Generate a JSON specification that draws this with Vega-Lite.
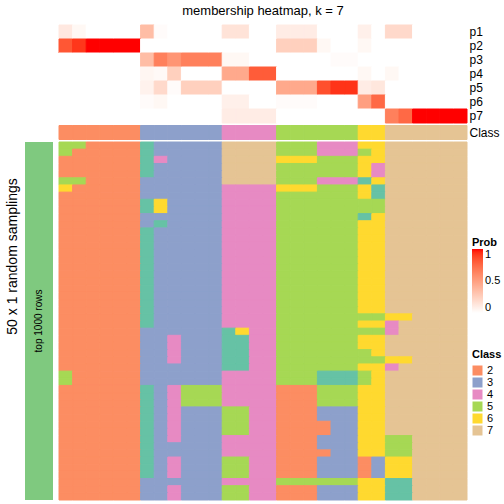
{
"$schema":"https://vega.github.io/schema/vega-lite/v6.json",
"padding":{"left":5,"top":4,"right":0,"bottom":0},
"config":{"view":{"stroke":null},"font":"Liberation Sans"},
"columns":2,
"align":"each",
"bounds":"flush",
"spacing":{"row":2.5,"column":6},
"datasets":{
"prob":[
{"p":"p1","c":0,"v":0.12},{"p":"p1","c":1,"v":0.04},{"p":"p1","c":2,"v":0},{"p":"p1","c":3,"v":0},{"p":"p1","c":4,"v":0},{"p":"p1","c":5,"v":0},{"p":"p1","c":6,"v":0.35},{"p":"p1","c":7,"v":0.02},{"p":"p1","c":8,"v":0},{"p":"p1","c":9,"v":0},{"p":"p1","c":10,"v":0},{"p":"p1","c":11,"v":0},{"p":"p1","c":12,"v":0.15},{"p":"p1","c":13,"v":0.15},{"p":"p1","c":14,"v":0},{"p":"p1","c":15,"v":0},{"p":"p1","c":16,"v":0.1},{"p":"p1","c":17,"v":0.1},{"p":"p1","c":18,"v":0.1},{"p":"p1","c":19,"v":0},{"p":"p1","c":20,"v":0},{"p":"p1","c":21,"v":0},{"p":"p1","c":22,"v":0.08},{"p":"p1","c":23,"v":0},{"p":"p1","c":24,"v":0.2},{"p":"p1","c":25,"v":0.2},{"p":"p1","c":26,"v":0},{"p":"p1","c":27,"v":0},{"p":"p1","c":28,"v":0},{"p":"p1","c":29,"v":0},
{"p":"p2","c":0,"v":0.82},{"p":"p2","c":1,"v":0.92},{"p":"p2","c":2,"v":1},{"p":"p2","c":3,"v":1},{"p":"p2","c":4,"v":1},{"p":"p2","c":5,"v":1},{"p":"p2","c":6,"v":0},{"p":"p2","c":7,"v":0},{"p":"p2","c":8,"v":0},{"p":"p2","c":9,"v":0},{"p":"p2","c":10,"v":0},{"p":"p2","c":11,"v":0},{"p":"p2","c":12,"v":0},{"p":"p2","c":13,"v":0},{"p":"p2","c":14,"v":0},{"p":"p2","c":15,"v":0},{"p":"p2","c":16,"v":0.25},{"p":"p2","c":17,"v":0.25},{"p":"p2","c":18,"v":0.25},{"p":"p2","c":19,"v":0.04},{"p":"p2","c":20,"v":0},{"p":"p2","c":21,"v":0},{"p":"p2","c":22,"v":0.04},{"p":"p2","c":23,"v":0},{"p":"p2","c":24,"v":0},{"p":"p2","c":25,"v":0},{"p":"p2","c":26,"v":0},{"p":"p2","c":27,"v":0},{"p":"p2","c":28,"v":0},{"p":"p2","c":29,"v":0},
{"p":"p3","c":0,"v":0},{"p":"p3","c":1,"v":0},{"p":"p3","c":2,"v":0},{"p":"p3","c":3,"v":0},{"p":"p3","c":4,"v":0},{"p":"p3","c":5,"v":0},{"p":"p3","c":6,"v":0.35},{"p":"p3","c":7,"v":0.65},{"p":"p3","c":8,"v":0.55},{"p":"p3","c":9,"v":0.65},{"p":"p3","c":10,"v":0.65},{"p":"p3","c":11,"v":0.65},{"p":"p3","c":12,"v":0.04},{"p":"p3","c":13,"v":0.04},{"p":"p3","c":14,"v":0},{"p":"p3","c":15,"v":0},{"p":"p3","c":16,"v":0},{"p":"p3","c":17,"v":0},{"p":"p3","c":18,"v":0},{"p":"p3","c":19,"v":0},{"p":"p3","c":20,"v":0.02},{"p":"p3","c":21,"v":0.02},{"p":"p3","c":22,"v":0},{"p":"p3","c":23,"v":0},{"p":"p3","c":24,"v":0},{"p":"p3","c":25,"v":0},{"p":"p3","c":26,"v":0},{"p":"p3","c":27,"v":0},{"p":"p3","c":28,"v":0},{"p":"p3","c":29,"v":0},
{"p":"p4","c":0,"v":0},{"p":"p4","c":1,"v":0},{"p":"p4","c":2,"v":0},{"p":"p4","c":3,"v":0},{"p":"p4","c":4,"v":0},{"p":"p4","c":5,"v":0},{"p":"p4","c":6,"v":0.05},{"p":"p4","c":7,"v":0.03},{"p":"p4","c":8,"v":0.25},{"p":"p4","c":9,"v":0},{"p":"p4","c":10,"v":0},{"p":"p4","c":11,"v":0},{"p":"p4","c":12,"v":0.45},{"p":"p4","c":13,"v":0.45},{"p":"p4","c":14,"v":0.8},{"p":"p4","c":15,"v":0.8},{"p":"p4","c":16,"v":0},{"p":"p4","c":17,"v":0},{"p":"p4","c":18,"v":0},{"p":"p4","c":19,"v":0},{"p":"p4","c":20,"v":0},{"p":"p4","c":21,"v":0},{"p":"p4","c":22,"v":0.04},{"p":"p4","c":23,"v":0},{"p":"p4","c":24,"v":0.04},{"p":"p4","c":25,"v":0},{"p":"p4","c":26,"v":0},{"p":"p4","c":27,"v":0},{"p":"p4","c":28,"v":0},{"p":"p4","c":29,"v":0},
{"p":"p5","c":0,"v":0},{"p":"p5","c":1,"v":0},{"p":"p5","c":2,"v":0},{"p":"p5","c":3,"v":0},{"p":"p5","c":4,"v":0},{"p":"p5","c":5,"v":0},{"p":"p5","c":6,"v":0.07},{"p":"p5","c":7,"v":0.2},{"p":"p5","c":8,"v":0.02},{"p":"p5","c":9,"v":0.25},{"p":"p5","c":10,"v":0.25},{"p":"p5","c":11,"v":0.25},{"p":"p5","c":12,"v":0},{"p":"p5","c":13,"v":0},{"p":"p5","c":14,"v":0},{"p":"p5","c":15,"v":0},{"p":"p5","c":16,"v":0.45},{"p":"p5","c":17,"v":0.45},{"p":"p5","c":18,"v":0.45},{"p":"p5","c":19,"v":0.85},{"p":"p5","c":20,"v":0.93},{"p":"p5","c":21,"v":0.93},{"p":"p5","c":22,"v":0.1},{"p":"p5","c":23,"v":0.13},{"p":"p5","c":24,"v":0},{"p":"p5","c":25,"v":0},{"p":"p5","c":26,"v":0},{"p":"p5","c":27,"v":0},{"p":"p5","c":28,"v":0},{"p":"p5","c":29,"v":0},
{"p":"p6","c":0,"v":0},{"p":"p6","c":1,"v":0},{"p":"p6","c":2,"v":0},{"p":"p6","c":3,"v":0},{"p":"p6","c":4,"v":0},{"p":"p6","c":5,"v":0},{"p":"p6","c":6,"v":0.02},{"p":"p6","c":7,"v":0.04},{"p":"p6","c":8,"v":0},{"p":"p6","c":9,"v":0},{"p":"p6","c":10,"v":0},{"p":"p6","c":11,"v":0},{"p":"p6","c":12,"v":0.08},{"p":"p6","c":13,"v":0.08},{"p":"p6","c":14,"v":0},{"p":"p6","c":15,"v":0},{"p":"p6","c":16,"v":0.02},{"p":"p6","c":17,"v":0.02},{"p":"p6","c":18,"v":0.02},{"p":"p6","c":19,"v":0},{"p":"p6","c":20,"v":0},{"p":"p6","c":21,"v":0},{"p":"p6","c":22,"v":0.5},{"p":"p6","c":23,"v":0.75},{"p":"p6","c":24,"v":0},{"p":"p6","c":25,"v":0},{"p":"p6","c":26,"v":0},{"p":"p6","c":27,"v":0},{"p":"p6","c":28,"v":0},{"p":"p6","c":29,"v":0},
{"p":"p7","c":0,"v":0},{"p":"p7","c":1,"v":0},{"p":"p7","c":2,"v":0},{"p":"p7","c":3,"v":0},{"p":"p7","c":4,"v":0},{"p":"p7","c":5,"v":0},{"p":"p7","c":6,"v":0},{"p":"p7","c":7,"v":0},{"p":"p7","c":8,"v":0},{"p":"p7","c":9,"v":0},{"p":"p7","c":10,"v":0},{"p":"p7","c":11,"v":0},{"p":"p7","c":12,"v":0.1},{"p":"p7","c":13,"v":0.1},{"p":"p7","c":14,"v":0.1},{"p":"p7","c":15,"v":0.1},{"p":"p7","c":16,"v":0},{"p":"p7","c":17,"v":0},{"p":"p7","c":18,"v":0},{"p":"p7","c":19,"v":0},{"p":"p7","c":20,"v":0},{"p":"p7","c":21,"v":0},{"p":"p7","c":22,"v":0},{"p":"p7","c":23,"v":0},{"p":"p7","c":24,"v":0.65},{"p":"p7","c":25,"v":0.75},{"p":"p7","c":26,"v":1},{"p":"p7","c":27,"v":1},{"p":"p7","c":28,"v":1},{"p":"p7","c":29,"v":1}
],
"cls":[
{"c":0,"k":2},{"c":1,"k":2},{"c":2,"k":2},{"c":3,"k":2},{"c":4,"k":2},{"c":5,"k":2},{"c":6,"k":3},{"c":7,"k":3},{"c":8,"k":3},{"c":9,"k":3},{"c":10,"k":3},{"c":11,"k":3},{"c":12,"k":4},{"c":13,"k":4},{"c":14,"k":4},{"c":15,"k":4},{"c":16,"k":5},{"c":17,"k":5},{"c":18,"k":5},{"c":19,"k":5},{"c":20,"k":5},{"c":21,"k":5},{"c":22,"k":6},{"c":23,"k":6},{"c":24,"k":7},{"c":25,"k":7},{"c":26,"k":7},{"c":27,"k":7},{"c":28,"k":7},{"c":29,"k":7}
],
"cells":[
{"r":0,"c":0,"k":5},{"r":0,"c":1,"k":5},{"r":0,"c":2,"k":2},{"r":0,"c":3,"k":2},{"r":0,"c":4,"k":2},{"r":0,"c":5,"k":2},{"r":0,"c":6,"k":1},{"r":0,"c":7,"k":3},{"r":0,"c":8,"k":3},{"r":0,"c":9,"k":3},{"r":0,"c":10,"k":3},{"r":0,"c":11,"k":3},{"r":0,"c":12,"k":7},{"r":0,"c":13,"k":7},{"r":0,"c":14,"k":7},{"r":0,"c":15,"k":7},{"r":0,"c":16,"k":5},{"r":0,"c":17,"k":5},{"r":0,"c":18,"k":5},{"r":0,"c":19,"k":4},{"r":0,"c":20,"k":4},{"r":0,"c":21,"k":4},{"r":0,"c":22,"k":6},{"r":0,"c":23,"k":6},{"r":0,"c":24,"k":7},{"r":0,"c":25,"k":7},{"r":0,"c":26,"k":7},{"r":0,"c":27,"k":7},{"r":0,"c":28,"k":7},{"r":0,"c":29,"k":7},
{"r":1,"c":0,"k":5},{"r":1,"c":1,"k":2},{"r":1,"c":2,"k":2},{"r":1,"c":3,"k":2},{"r":1,"c":4,"k":2},{"r":1,"c":5,"k":2},{"r":1,"c":6,"k":1},{"r":1,"c":7,"k":3},{"r":1,"c":8,"k":3},{"r":1,"c":9,"k":3},{"r":1,"c":10,"k":3},{"r":1,"c":11,"k":3},{"r":1,"c":12,"k":7},{"r":1,"c":13,"k":7},{"r":1,"c":14,"k":7},{"r":1,"c":15,"k":7},{"r":1,"c":16,"k":5},{"r":1,"c":17,"k":5},{"r":1,"c":18,"k":5},{"r":1,"c":19,"k":4},{"r":1,"c":20,"k":4},{"r":1,"c":21,"k":4},{"r":1,"c":22,"k":5},{"r":1,"c":23,"k":6},{"r":1,"c":24,"k":7},{"r":1,"c":25,"k":7},{"r":1,"c":26,"k":7},{"r":1,"c":27,"k":7},{"r":1,"c":28,"k":7},{"r":1,"c":29,"k":7},
{"r":2,"c":0,"k":2},{"r":2,"c":1,"k":2},{"r":2,"c":2,"k":2},{"r":2,"c":3,"k":2},{"r":2,"c":4,"k":2},{"r":2,"c":5,"k":2},{"r":2,"c":6,"k":1},{"r":2,"c":7,"k":4},{"r":2,"c":8,"k":3},{"r":2,"c":9,"k":3},{"r":2,"c":10,"k":3},{"r":2,"c":11,"k":3},{"r":2,"c":12,"k":7},{"r":2,"c":13,"k":7},{"r":2,"c":14,"k":7},{"r":2,"c":15,"k":7},{"r":2,"c":16,"k":6},{"r":2,"c":17,"k":6},{"r":2,"c":18,"k":6},{"r":2,"c":19,"k":5},{"r":2,"c":20,"k":5},{"r":2,"c":21,"k":5},{"r":2,"c":22,"k":6},{"r":2,"c":23,"k":6},{"r":2,"c":24,"k":7},{"r":2,"c":25,"k":7},{"r":2,"c":26,"k":7},{"r":2,"c":27,"k":7},{"r":2,"c":28,"k":7},{"r":2,"c":29,"k":7},
{"r":3,"c":0,"k":2},{"r":3,"c":1,"k":2},{"r":3,"c":2,"k":2},{"r":3,"c":3,"k":2},{"r":3,"c":4,"k":2},{"r":3,"c":5,"k":2},{"r":3,"c":6,"k":1},{"r":3,"c":7,"k":3},{"r":3,"c":8,"k":3},{"r":3,"c":9,"k":3},{"r":3,"c":10,"k":3},{"r":3,"c":11,"k":3},{"r":3,"c":12,"k":7},{"r":3,"c":13,"k":7},{"r":3,"c":14,"k":7},{"r":3,"c":15,"k":7},{"r":3,"c":16,"k":5},{"r":3,"c":17,"k":5},{"r":3,"c":18,"k":5},{"r":3,"c":19,"k":5},{"r":3,"c":20,"k":5},{"r":3,"c":21,"k":5},{"r":3,"c":22,"k":6},{"r":3,"c":23,"k":4},{"r":3,"c":24,"k":7},{"r":3,"c":25,"k":7},{"r":3,"c":26,"k":7},{"r":3,"c":27,"k":7},{"r":3,"c":28,"k":7},{"r":3,"c":29,"k":7},
{"r":4,"c":0,"k":2},{"r":4,"c":1,"k":2},{"r":4,"c":2,"k":2},{"r":4,"c":3,"k":2},{"r":4,"c":4,"k":2},{"r":4,"c":5,"k":2},{"r":4,"c":6,"k":1},{"r":4,"c":7,"k":3},{"r":4,"c":8,"k":3},{"r":4,"c":9,"k":3},{"r":4,"c":10,"k":3},{"r":4,"c":11,"k":3},{"r":4,"c":12,"k":7},{"r":4,"c":13,"k":7},{"r":4,"c":14,"k":7},{"r":4,"c":15,"k":7},{"r":4,"c":16,"k":5},{"r":4,"c":17,"k":5},{"r":4,"c":18,"k":5},{"r":4,"c":19,"k":5},{"r":4,"c":20,"k":5},{"r":4,"c":21,"k":5},{"r":4,"c":22,"k":6},{"r":4,"c":23,"k":4},{"r":4,"c":24,"k":7},{"r":4,"c":25,"k":7},{"r":4,"c":26,"k":7},{"r":4,"c":27,"k":7},{"r":4,"c":28,"k":7},{"r":4,"c":29,"k":7},
{"r":5,"c":0,"k":5},{"r":5,"c":1,"k":5},{"r":5,"c":2,"k":2},{"r":5,"c":3,"k":2},{"r":5,"c":4,"k":2},{"r":5,"c":5,"k":2},{"r":5,"c":6,"k":3},{"r":5,"c":7,"k":3},{"r":5,"c":8,"k":3},{"r":5,"c":9,"k":3},{"r":5,"c":10,"k":3},{"r":5,"c":11,"k":3},{"r":5,"c":12,"k":7},{"r":5,"c":13,"k":7},{"r":5,"c":14,"k":7},{"r":5,"c":15,"k":7},{"r":5,"c":16,"k":5},{"r":5,"c":17,"k":5},{"r":5,"c":18,"k":5},{"r":5,"c":19,"k":4},{"r":5,"c":20,"k":4},{"r":5,"c":21,"k":4},{"r":5,"c":22,"k":1},{"r":5,"c":23,"k":6},{"r":5,"c":24,"k":7},{"r":5,"c":25,"k":7},{"r":5,"c":26,"k":7},{"r":5,"c":27,"k":7},{"r":5,"c":28,"k":7},{"r":5,"c":29,"k":7},
{"r":6,"c":0,"k":6},{"r":6,"c":1,"k":2},{"r":6,"c":2,"k":2},{"r":6,"c":3,"k":2},{"r":6,"c":4,"k":2},{"r":6,"c":5,"k":2},{"r":6,"c":6,"k":3},{"r":6,"c":7,"k":3},{"r":6,"c":8,"k":3},{"r":6,"c":9,"k":3},{"r":6,"c":10,"k":3},{"r":6,"c":11,"k":3},{"r":6,"c":12,"k":4},{"r":6,"c":13,"k":4},{"r":6,"c":14,"k":4},{"r":6,"c":15,"k":4},{"r":6,"c":16,"k":6},{"r":6,"c":17,"k":6},{"r":6,"c":18,"k":6},{"r":6,"c":19,"k":5},{"r":6,"c":20,"k":5},{"r":6,"c":21,"k":5},{"r":6,"c":22,"k":6},{"r":6,"c":23,"k":1},{"r":6,"c":24,"k":7},{"r":6,"c":25,"k":7},{"r":6,"c":26,"k":7},{"r":6,"c":27,"k":7},{"r":6,"c":28,"k":7},{"r":6,"c":29,"k":7},
{"r":7,"c":0,"k":2},{"r":7,"c":1,"k":2},{"r":7,"c":2,"k":2},{"r":7,"c":3,"k":2},{"r":7,"c":4,"k":2},{"r":7,"c":5,"k":2},{"r":7,"c":6,"k":3},{"r":7,"c":7,"k":3},{"r":7,"c":8,"k":3},{"r":7,"c":9,"k":3},{"r":7,"c":10,"k":3},{"r":7,"c":11,"k":3},{"r":7,"c":12,"k":4},{"r":7,"c":13,"k":4},{"r":7,"c":14,"k":4},{"r":7,"c":15,"k":4},{"r":7,"c":16,"k":5},{"r":7,"c":17,"k":5},{"r":7,"c":18,"k":5},{"r":7,"c":19,"k":5},{"r":7,"c":20,"k":5},{"r":7,"c":21,"k":5},{"r":7,"c":22,"k":6},{"r":7,"c":23,"k":1},{"r":7,"c":24,"k":7},{"r":7,"c":25,"k":7},{"r":7,"c":26,"k":7},{"r":7,"c":27,"k":7},{"r":7,"c":28,"k":7},{"r":7,"c":29,"k":7},
{"r":8,"c":0,"k":2},{"r":8,"c":1,"k":2},{"r":8,"c":2,"k":2},{"r":8,"c":3,"k":2},{"r":8,"c":4,"k":2},{"r":8,"c":5,"k":2},{"r":8,"c":6,"k":1},{"r":8,"c":7,"k":6},{"r":8,"c":8,"k":3},{"r":8,"c":9,"k":3},{"r":8,"c":10,"k":3},{"r":8,"c":11,"k":3},{"r":8,"c":12,"k":4},{"r":8,"c":13,"k":4},{"r":8,"c":14,"k":4},{"r":8,"c":15,"k":4},{"r":8,"c":16,"k":5},{"r":8,"c":17,"k":5},{"r":8,"c":18,"k":5},{"r":8,"c":19,"k":5},{"r":8,"c":20,"k":5},{"r":8,"c":21,"k":5},{"r":8,"c":22,"k":5},{"r":8,"c":23,"k":5},{"r":8,"c":24,"k":7},{"r":8,"c":25,"k":7},{"r":8,"c":26,"k":7},{"r":8,"c":27,"k":7},{"r":8,"c":28,"k":7},{"r":8,"c":29,"k":7},
{"r":9,"c":0,"k":2},{"r":9,"c":1,"k":2},{"r":9,"c":2,"k":2},{"r":9,"c":3,"k":2},{"r":9,"c":4,"k":2},{"r":9,"c":5,"k":2},{"r":9,"c":6,"k":1},{"r":9,"c":7,"k":6},{"r":9,"c":8,"k":3},{"r":9,"c":9,"k":3},{"r":9,"c":10,"k":3},{"r":9,"c":11,"k":3},{"r":9,"c":12,"k":4},{"r":9,"c":13,"k":4},{"r":9,"c":14,"k":4},{"r":9,"c":15,"k":4},{"r":9,"c":16,"k":5},{"r":9,"c":17,"k":5},{"r":9,"c":18,"k":5},{"r":9,"c":19,"k":5},{"r":9,"c":20,"k":5},{"r":9,"c":21,"k":5},{"r":9,"c":22,"k":5},{"r":9,"c":23,"k":5},{"r":9,"c":24,"k":7},{"r":9,"c":25,"k":7},{"r":9,"c":26,"k":7},{"r":9,"c":27,"k":7},{"r":9,"c":28,"k":7},{"r":9,"c":29,"k":7},
{"r":10,"c":0,"k":2},{"r":10,"c":1,"k":2},{"r":10,"c":2,"k":2},{"r":10,"c":3,"k":2},{"r":10,"c":4,"k":2},{"r":10,"c":5,"k":2},{"r":10,"c":6,"k":3},{"r":10,"c":7,"k":3},{"r":10,"c":8,"k":3},{"r":10,"c":9,"k":3},{"r":10,"c":10,"k":3},{"r":10,"c":11,"k":3},{"r":10,"c":12,"k":4},{"r":10,"c":13,"k":4},{"r":10,"c":14,"k":4},{"r":10,"c":15,"k":4},{"r":10,"c":16,"k":5},{"r":10,"c":17,"k":5},{"r":10,"c":18,"k":5},{"r":10,"c":19,"k":5},{"r":10,"c":20,"k":5},{"r":10,"c":21,"k":5},{"r":10,"c":22,"k":1},{"r":10,"c":23,"k":6},{"r":10,"c":24,"k":7},{"r":10,"c":25,"k":7},{"r":10,"c":26,"k":7},{"r":10,"c":27,"k":7},{"r":10,"c":28,"k":7},{"r":10,"c":29,"k":7},
{"r":11,"c":0,"k":2},{"r":11,"c":1,"k":2},{"r":11,"c":2,"k":2},{"r":11,"c":3,"k":2},{"r":11,"c":4,"k":2},{"r":11,"c":5,"k":2},{"r":11,"c":6,"k":3},{"r":11,"c":7,"k":1},{"r":11,"c":8,"k":3},{"r":11,"c":9,"k":3},{"r":11,"c":10,"k":3},{"r":11,"c":11,"k":3},{"r":11,"c":12,"k":4},{"r":11,"c":13,"k":4},{"r":11,"c":14,"k":4},{"r":11,"c":15,"k":4},{"r":11,"c":16,"k":5},{"r":11,"c":17,"k":5},{"r":11,"c":18,"k":5},{"r":11,"c":19,"k":5},{"r":11,"c":20,"k":5},{"r":11,"c":21,"k":5},{"r":11,"c":22,"k":6},{"r":11,"c":23,"k":6},{"r":11,"c":24,"k":7},{"r":11,"c":25,"k":7},{"r":11,"c":26,"k":7},{"r":11,"c":27,"k":7},{"r":11,"c":28,"k":7},{"r":11,"c":29,"k":7},
{"r":12,"c":0,"k":2},{"r":12,"c":1,"k":2},{"r":12,"c":2,"k":2},{"r":12,"c":3,"k":2},{"r":12,"c":4,"k":2},{"r":12,"c":5,"k":2},{"r":12,"c":6,"k":1},{"r":12,"c":7,"k":3},{"r":12,"c":8,"k":3},{"r":12,"c":9,"k":3},{"r":12,"c":10,"k":3},{"r":12,"c":11,"k":3},{"r":12,"c":12,"k":4},{"r":12,"c":13,"k":4},{"r":12,"c":14,"k":4},{"r":12,"c":15,"k":4},{"r":12,"c":16,"k":5},{"r":12,"c":17,"k":5},{"r":12,"c":18,"k":5},{"r":12,"c":19,"k":5},{"r":12,"c":20,"k":5},{"r":12,"c":21,"k":5},{"r":12,"c":22,"k":6},{"r":12,"c":23,"k":6},{"r":12,"c":24,"k":7},{"r":12,"c":25,"k":7},{"r":12,"c":26,"k":7},{"r":12,"c":27,"k":7},{"r":12,"c":28,"k":7},{"r":12,"c":29,"k":7},
{"r":13,"c":0,"k":2},{"r":13,"c":1,"k":2},{"r":13,"c":2,"k":2},{"r":13,"c":3,"k":2},{"r":13,"c":4,"k":2},{"r":13,"c":5,"k":2},{"r":13,"c":6,"k":1},{"r":13,"c":7,"k":3},{"r":13,"c":8,"k":3},{"r":13,"c":9,"k":3},{"r":13,"c":10,"k":3},{"r":13,"c":11,"k":3},{"r":13,"c":12,"k":4},{"r":13,"c":13,"k":4},{"r":13,"c":14,"k":4},{"r":13,"c":15,"k":4},{"r":13,"c":16,"k":5},{"r":13,"c":17,"k":5},{"r":13,"c":18,"k":5},{"r":13,"c":19,"k":5},{"r":13,"c":20,"k":5},{"r":13,"c":21,"k":5},{"r":13,"c":22,"k":6},{"r":13,"c":23,"k":6},{"r":13,"c":24,"k":7},{"r":13,"c":25,"k":7},{"r":13,"c":26,"k":7},{"r":13,"c":27,"k":7},{"r":13,"c":28,"k":7},{"r":13,"c":29,"k":7},
{"r":14,"c":0,"k":2},{"r":14,"c":1,"k":2},{"r":14,"c":2,"k":2},{"r":14,"c":3,"k":2},{"r":14,"c":4,"k":2},{"r":14,"c":5,"k":2},{"r":14,"c":6,"k":1},{"r":14,"c":7,"k":3},{"r":14,"c":8,"k":3},{"r":14,"c":9,"k":3},{"r":14,"c":10,"k":3},{"r":14,"c":11,"k":3},{"r":14,"c":12,"k":4},{"r":14,"c":13,"k":4},{"r":14,"c":14,"k":4},{"r":14,"c":15,"k":4},{"r":14,"c":16,"k":5},{"r":14,"c":17,"k":5},{"r":14,"c":18,"k":5},{"r":14,"c":19,"k":5},{"r":14,"c":20,"k":5},{"r":14,"c":21,"k":5},{"r":14,"c":22,"k":6},{"r":14,"c":23,"k":6},{"r":14,"c":24,"k":7},{"r":14,"c":25,"k":7},{"r":14,"c":26,"k":7},{"r":14,"c":27,"k":7},{"r":14,"c":28,"k":7},{"r":14,"c":29,"k":7},
{"r":15,"c":0,"k":2},{"r":15,"c":1,"k":2},{"r":15,"c":2,"k":2},{"r":15,"c":3,"k":2},{"r":15,"c":4,"k":2},{"r":15,"c":5,"k":2},{"r":15,"c":6,"k":1},{"r":15,"c":7,"k":3},{"r":15,"c":8,"k":3},{"r":15,"c":9,"k":3},{"r":15,"c":10,"k":3},{"r":15,"c":11,"k":3},{"r":15,"c":12,"k":4},{"r":15,"c":13,"k":4},{"r":15,"c":14,"k":4},{"r":15,"c":15,"k":4},{"r":15,"c":16,"k":5},{"r":15,"c":17,"k":5},{"r":15,"c":18,"k":5},{"r":15,"c":19,"k":5},{"r":15,"c":20,"k":5},{"r":15,"c":21,"k":5},{"r":15,"c":22,"k":6},{"r":15,"c":23,"k":6},{"r":15,"c":24,"k":7},{"r":15,"c":25,"k":7},{"r":15,"c":26,"k":7},{"r":15,"c":27,"k":7},{"r":15,"c":28,"k":7},{"r":15,"c":29,"k":7},
{"r":16,"c":0,"k":2},{"r":16,"c":1,"k":2},{"r":16,"c":2,"k":2},{"r":16,"c":3,"k":2},{"r":16,"c":4,"k":2},{"r":16,"c":5,"k":2},{"r":16,"c":6,"k":1},{"r":16,"c":7,"k":3},{"r":16,"c":8,"k":3},{"r":16,"c":9,"k":3},{"r":16,"c":10,"k":3},{"r":16,"c":11,"k":3},{"r":16,"c":12,"k":4},{"r":16,"c":13,"k":4},{"r":16,"c":14,"k":4},{"r":16,"c":15,"k":4},{"r":16,"c":16,"k":5},{"r":16,"c":17,"k":5},{"r":16,"c":18,"k":5},{"r":16,"c":19,"k":5},{"r":16,"c":20,"k":5},{"r":16,"c":21,"k":5},{"r":16,"c":22,"k":6},{"r":16,"c":23,"k":6},{"r":16,"c":24,"k":7},{"r":16,"c":25,"k":7},{"r":16,"c":26,"k":7},{"r":16,"c":27,"k":7},{"r":16,"c":28,"k":7},{"r":16,"c":29,"k":7},
{"r":17,"c":0,"k":2},{"r":17,"c":1,"k":2},{"r":17,"c":2,"k":2},{"r":17,"c":3,"k":2},{"r":17,"c":4,"k":2},{"r":17,"c":5,"k":2},{"r":17,"c":6,"k":1},{"r":17,"c":7,"k":3},{"r":17,"c":8,"k":3},{"r":17,"c":9,"k":3},{"r":17,"c":10,"k":3},{"r":17,"c":11,"k":3},{"r":17,"c":12,"k":4},{"r":17,"c":13,"k":4},{"r":17,"c":14,"k":4},{"r":17,"c":15,"k":4},{"r":17,"c":16,"k":5},{"r":17,"c":17,"k":5},{"r":17,"c":18,"k":5},{"r":17,"c":19,"k":5},{"r":17,"c":20,"k":5},{"r":17,"c":21,"k":5},{"r":17,"c":22,"k":6},{"r":17,"c":23,"k":6},{"r":17,"c":24,"k":7},{"r":17,"c":25,"k":7},{"r":17,"c":26,"k":7},{"r":17,"c":27,"k":7},{"r":17,"c":28,"k":7},{"r":17,"c":29,"k":7},
{"r":18,"c":0,"k":2},{"r":18,"c":1,"k":2},{"r":18,"c":2,"k":2},{"r":18,"c":3,"k":2},{"r":18,"c":4,"k":2},{"r":18,"c":5,"k":2},{"r":18,"c":6,"k":1},{"r":18,"c":7,"k":3},{"r":18,"c":8,"k":3},{"r":18,"c":9,"k":3},{"r":18,"c":10,"k":3},{"r":18,"c":11,"k":3},{"r":18,"c":12,"k":4},{"r":18,"c":13,"k":4},{"r":18,"c":14,"k":4},{"r":18,"c":15,"k":4},{"r":18,"c":16,"k":5},{"r":18,"c":17,"k":5},{"r":18,"c":18,"k":5},{"r":18,"c":19,"k":5},{"r":18,"c":20,"k":5},{"r":18,"c":21,"k":5},{"r":18,"c":22,"k":6},{"r":18,"c":23,"k":6},{"r":18,"c":24,"k":7},{"r":18,"c":25,"k":7},{"r":18,"c":26,"k":7},{"r":18,"c":27,"k":7},{"r":18,"c":28,"k":7},{"r":18,"c":29,"k":7},
{"r":19,"c":0,"k":2},{"r":19,"c":1,"k":2},{"r":19,"c":2,"k":2},{"r":19,"c":3,"k":2},{"r":19,"c":4,"k":2},{"r":19,"c":5,"k":2},{"r":19,"c":6,"k":1},{"r":19,"c":7,"k":3},{"r":19,"c":8,"k":3},{"r":19,"c":9,"k":3},{"r":19,"c":10,"k":3},{"r":19,"c":11,"k":3},{"r":19,"c":12,"k":4},{"r":19,"c":13,"k":4},{"r":19,"c":14,"k":4},{"r":19,"c":15,"k":4},{"r":19,"c":16,"k":5},{"r":19,"c":17,"k":5},{"r":19,"c":18,"k":5},{"r":19,"c":19,"k":5},{"r":19,"c":20,"k":5},{"r":19,"c":21,"k":5},{"r":19,"c":22,"k":6},{"r":19,"c":23,"k":6},{"r":19,"c":24,"k":7},{"r":19,"c":25,"k":7},{"r":19,"c":26,"k":7},{"r":19,"c":27,"k":7},{"r":19,"c":28,"k":7},{"r":19,"c":29,"k":7},
{"r":20,"c":0,"k":2},{"r":20,"c":1,"k":2},{"r":20,"c":2,"k":2},{"r":20,"c":3,"k":2},{"r":20,"c":4,"k":2},{"r":20,"c":5,"k":2},{"r":20,"c":6,"k":1},{"r":20,"c":7,"k":3},{"r":20,"c":8,"k":3},{"r":20,"c":9,"k":3},{"r":20,"c":10,"k":3},{"r":20,"c":11,"k":3},{"r":20,"c":12,"k":4},{"r":20,"c":13,"k":4},{"r":20,"c":14,"k":4},{"r":20,"c":15,"k":4},{"r":20,"c":16,"k":5},{"r":20,"c":17,"k":5},{"r":20,"c":18,"k":5},{"r":20,"c":19,"k":5},{"r":20,"c":20,"k":5},{"r":20,"c":21,"k":5},{"r":20,"c":22,"k":6},{"r":20,"c":23,"k":6},{"r":20,"c":24,"k":7},{"r":20,"c":25,"k":7},{"r":20,"c":26,"k":7},{"r":20,"c":27,"k":7},{"r":20,"c":28,"k":7},{"r":20,"c":29,"k":7},
{"r":21,"c":0,"k":2},{"r":21,"c":1,"k":2},{"r":21,"c":2,"k":2},{"r":21,"c":3,"k":2},{"r":21,"c":4,"k":2},{"r":21,"c":5,"k":2},{"r":21,"c":6,"k":1},{"r":21,"c":7,"k":3},{"r":21,"c":8,"k":3},{"r":21,"c":9,"k":3},{"r":21,"c":10,"k":3},{"r":21,"c":11,"k":3},{"r":21,"c":12,"k":4},{"r":21,"c":13,"k":4},{"r":21,"c":14,"k":4},{"r":21,"c":15,"k":4},{"r":21,"c":16,"k":5},{"r":21,"c":17,"k":5},{"r":21,"c":18,"k":5},{"r":21,"c":19,"k":5},{"r":21,"c":20,"k":5},{"r":21,"c":21,"k":5},{"r":21,"c":22,"k":6},{"r":21,"c":23,"k":6},{"r":21,"c":24,"k":7},{"r":21,"c":25,"k":7},{"r":21,"c":26,"k":7},{"r":21,"c":27,"k":7},{"r":21,"c":28,"k":7},{"r":21,"c":29,"k":7},
{"r":22,"c":0,"k":2},{"r":22,"c":1,"k":2},{"r":22,"c":2,"k":2},{"r":22,"c":3,"k":2},{"r":22,"c":4,"k":2},{"r":22,"c":5,"k":2},{"r":22,"c":6,"k":1},{"r":22,"c":7,"k":3},{"r":22,"c":8,"k":3},{"r":22,"c":9,"k":3},{"r":22,"c":10,"k":3},{"r":22,"c":11,"k":3},{"r":22,"c":12,"k":4},{"r":22,"c":13,"k":4},{"r":22,"c":14,"k":4},{"r":22,"c":15,"k":4},{"r":22,"c":16,"k":5},{"r":22,"c":17,"k":5},{"r":22,"c":18,"k":5},{"r":22,"c":19,"k":5},{"r":22,"c":20,"k":5},{"r":22,"c":21,"k":5},{"r":22,"c":22,"k":6},{"r":22,"c":23,"k":6},{"r":22,"c":24,"k":7},{"r":22,"c":25,"k":7},{"r":22,"c":26,"k":7},{"r":22,"c":27,"k":7},{"r":22,"c":28,"k":7},{"r":22,"c":29,"k":7},
{"r":23,"c":0,"k":2},{"r":23,"c":1,"k":2},{"r":23,"c":2,"k":2},{"r":23,"c":3,"k":2},{"r":23,"c":4,"k":2},{"r":23,"c":5,"k":2},{"r":23,"c":6,"k":1},{"r":23,"c":7,"k":3},{"r":23,"c":8,"k":3},{"r":23,"c":9,"k":3},{"r":23,"c":10,"k":3},{"r":23,"c":11,"k":3},{"r":23,"c":12,"k":4},{"r":23,"c":13,"k":4},{"r":23,"c":14,"k":4},{"r":23,"c":15,"k":4},{"r":23,"c":16,"k":5},{"r":23,"c":17,"k":5},{"r":23,"c":18,"k":5},{"r":23,"c":19,"k":5},{"r":23,"c":20,"k":5},{"r":23,"c":21,"k":5},{"r":23,"c":22,"k":6},{"r":23,"c":23,"k":6},{"r":23,"c":24,"k":7},{"r":23,"c":25,"k":7},{"r":23,"c":26,"k":7},{"r":23,"c":27,"k":7},{"r":23,"c":28,"k":7},{"r":23,"c":29,"k":7},
{"r":24,"c":0,"k":2},{"r":24,"c":1,"k":2},{"r":24,"c":2,"k":2},{"r":24,"c":3,"k":2},{"r":24,"c":4,"k":2},{"r":24,"c":5,"k":2},{"r":24,"c":6,"k":1},{"r":24,"c":7,"k":3},{"r":24,"c":8,"k":3},{"r":24,"c":9,"k":3},{"r":24,"c":10,"k":3},{"r":24,"c":11,"k":3},{"r":24,"c":12,"k":4},{"r":24,"c":13,"k":4},{"r":24,"c":14,"k":4},{"r":24,"c":15,"k":4},{"r":24,"c":16,"k":5},{"r":24,"c":17,"k":5},{"r":24,"c":18,"k":5},{"r":24,"c":19,"k":5},{"r":24,"c":20,"k":5},{"r":24,"c":21,"k":5},{"r":24,"c":22,"k":5},{"r":24,"c":23,"k":5},{"r":24,"c":24,"k":6},{"r":24,"c":25,"k":6},{"r":24,"c":26,"k":7},{"r":24,"c":27,"k":7},{"r":24,"c":28,"k":7},{"r":24,"c":29,"k":7},
{"r":25,"c":0,"k":2},{"r":25,"c":1,"k":2},{"r":25,"c":2,"k":2},{"r":25,"c":3,"k":2},{"r":25,"c":4,"k":2},{"r":25,"c":5,"k":2},{"r":25,"c":6,"k":1},{"r":25,"c":7,"k":3},{"r":25,"c":8,"k":3},{"r":25,"c":9,"k":3},{"r":25,"c":10,"k":3},{"r":25,"c":11,"k":3},{"r":25,"c":12,"k":4},{"r":25,"c":13,"k":4},{"r":25,"c":14,"k":4},{"r":25,"c":15,"k":4},{"r":25,"c":16,"k":5},{"r":25,"c":17,"k":5},{"r":25,"c":18,"k":5},{"r":25,"c":19,"k":5},{"r":25,"c":20,"k":5},{"r":25,"c":21,"k":5},{"r":25,"c":22,"k":6},{"r":25,"c":23,"k":6},{"r":25,"c":24,"k":4},{"r":25,"c":25,"k":7},{"r":25,"c":26,"k":7},{"r":25,"c":27,"k":7},{"r":25,"c":28,"k":7},{"r":25,"c":29,"k":7},
{"r":26,"c":0,"k":2},{"r":26,"c":1,"k":2},{"r":26,"c":2,"k":2},{"r":26,"c":3,"k":2},{"r":26,"c":4,"k":2},{"r":26,"c":5,"k":2},{"r":26,"c":6,"k":3},{"r":26,"c":7,"k":3},{"r":26,"c":8,"k":3},{"r":26,"c":9,"k":3},{"r":26,"c":10,"k":3},{"r":26,"c":11,"k":3},{"r":26,"c":12,"k":1},{"r":26,"c":13,"k":6},{"r":26,"c":14,"k":4},{"r":26,"c":15,"k":4},{"r":26,"c":16,"k":5},{"r":26,"c":17,"k":5},{"r":26,"c":18,"k":5},{"r":26,"c":19,"k":5},{"r":26,"c":20,"k":5},{"r":26,"c":21,"k":5},{"r":26,"c":22,"k":5},{"r":26,"c":23,"k":5},{"r":26,"c":24,"k":4},{"r":26,"c":25,"k":7},{"r":26,"c":26,"k":7},{"r":26,"c":27,"k":7},{"r":26,"c":28,"k":7},{"r":26,"c":29,"k":7},
{"r":27,"c":0,"k":2},{"r":27,"c":1,"k":2},{"r":27,"c":2,"k":2},{"r":27,"c":3,"k":2},{"r":27,"c":4,"k":2},{"r":27,"c":5,"k":2},{"r":27,"c":6,"k":3},{"r":27,"c":7,"k":3},{"r":27,"c":8,"k":4},{"r":27,"c":9,"k":3},{"r":27,"c":10,"k":3},{"r":27,"c":11,"k":3},{"r":27,"c":12,"k":1},{"r":27,"c":13,"k":1},{"r":27,"c":14,"k":4},{"r":27,"c":15,"k":4},{"r":27,"c":16,"k":5},{"r":27,"c":17,"k":5},{"r":27,"c":18,"k":5},{"r":27,"c":19,"k":5},{"r":27,"c":20,"k":5},{"r":27,"c":21,"k":5},{"r":27,"c":22,"k":6},{"r":27,"c":23,"k":6},{"r":27,"c":24,"k":7},{"r":27,"c":25,"k":7},{"r":27,"c":26,"k":7},{"r":27,"c":27,"k":7},{"r":27,"c":28,"k":7},{"r":27,"c":29,"k":7},
{"r":28,"c":0,"k":2},{"r":28,"c":1,"k":2},{"r":28,"c":2,"k":2},{"r":28,"c":3,"k":2},{"r":28,"c":4,"k":2},{"r":28,"c":5,"k":2},{"r":28,"c":6,"k":3},{"r":28,"c":7,"k":3},{"r":28,"c":8,"k":4},{"r":28,"c":9,"k":3},{"r":28,"c":10,"k":3},{"r":28,"c":11,"k":3},{"r":28,"c":12,"k":1},{"r":28,"c":13,"k":1},{"r":28,"c":14,"k":4},{"r":28,"c":15,"k":4},{"r":28,"c":16,"k":5},{"r":28,"c":17,"k":5},{"r":28,"c":18,"k":5},{"r":28,"c":19,"k":5},{"r":28,"c":20,"k":5},{"r":28,"c":21,"k":5},{"r":28,"c":22,"k":6},{"r":28,"c":23,"k":6},{"r":28,"c":24,"k":7},{"r":28,"c":25,"k":7},{"r":28,"c":26,"k":7},{"r":28,"c":27,"k":7},{"r":28,"c":28,"k":7},{"r":28,"c":29,"k":7},
{"r":29,"c":0,"k":2},{"r":29,"c":1,"k":2},{"r":29,"c":2,"k":2},{"r":29,"c":3,"k":2},{"r":29,"c":4,"k":2},{"r":29,"c":5,"k":2},{"r":29,"c":6,"k":3},{"r":29,"c":7,"k":3},{"r":29,"c":8,"k":4},{"r":29,"c":9,"k":3},{"r":29,"c":10,"k":3},{"r":29,"c":11,"k":3},{"r":29,"c":12,"k":1},{"r":29,"c":13,"k":1},{"r":29,"c":14,"k":4},{"r":29,"c":15,"k":4},{"r":29,"c":16,"k":5},{"r":29,"c":17,"k":5},{"r":29,"c":18,"k":5},{"r":29,"c":19,"k":5},{"r":29,"c":20,"k":5},{"r":29,"c":21,"k":5},{"r":29,"c":22,"k":5},{"r":29,"c":23,"k":6},{"r":29,"c":24,"k":7},{"r":29,"c":25,"k":7},{"r":29,"c":26,"k":7},{"r":29,"c":27,"k":7},{"r":29,"c":28,"k":7},{"r":29,"c":29,"k":7},
{"r":30,"c":0,"k":2},{"r":30,"c":1,"k":2},{"r":30,"c":2,"k":2},{"r":30,"c":3,"k":2},{"r":30,"c":4,"k":2},{"r":30,"c":5,"k":2},{"r":30,"c":6,"k":3},{"r":30,"c":7,"k":3},{"r":30,"c":8,"k":4},{"r":30,"c":9,"k":3},{"r":30,"c":10,"k":3},{"r":30,"c":11,"k":3},{"r":30,"c":12,"k":1},{"r":30,"c":13,"k":1},{"r":30,"c":14,"k":4},{"r":30,"c":15,"k":4},{"r":30,"c":16,"k":5},{"r":30,"c":17,"k":5},{"r":30,"c":18,"k":5},{"r":30,"c":19,"k":5},{"r":30,"c":20,"k":5},{"r":30,"c":21,"k":5},{"r":30,"c":22,"k":5},{"r":30,"c":23,"k":5},{"r":30,"c":24,"k":6},{"r":30,"c":25,"k":6},{"r":30,"c":26,"k":7},{"r":30,"c":27,"k":7},{"r":30,"c":28,"k":7},{"r":30,"c":29,"k":7},
{"r":31,"c":0,"k":2},{"r":31,"c":1,"k":2},{"r":31,"c":2,"k":2},{"r":31,"c":3,"k":2},{"r":31,"c":4,"k":2},{"r":31,"c":5,"k":2},{"r":31,"c":6,"k":3},{"r":31,"c":7,"k":3},{"r":31,"c":8,"k":3},{"r":31,"c":9,"k":3},{"r":31,"c":10,"k":3},{"r":31,"c":11,"k":3},{"r":31,"c":12,"k":1},{"r":31,"c":13,"k":1},{"r":31,"c":14,"k":4},{"r":31,"c":15,"k":4},{"r":31,"c":16,"k":5},{"r":31,"c":17,"k":5},{"r":31,"c":18,"k":5},{"r":31,"c":19,"k":5},{"r":31,"c":20,"k":5},{"r":31,"c":21,"k":5},{"r":31,"c":22,"k":6},{"r":31,"c":23,"k":6},{"r":31,"c":24,"k":4},{"r":31,"c":25,"k":7},{"r":31,"c":26,"k":7},{"r":31,"c":27,"k":7},{"r":31,"c":28,"k":7},{"r":31,"c":29,"k":7},
{"r":32,"c":0,"k":5},{"r":32,"c":1,"k":2},{"r":32,"c":2,"k":2},{"r":32,"c":3,"k":2},{"r":32,"c":4,"k":2},{"r":32,"c":5,"k":2},{"r":32,"c":6,"k":3},{"r":32,"c":7,"k":3},{"r":32,"c":8,"k":3},{"r":32,"c":9,"k":3},{"r":32,"c":10,"k":3},{"r":32,"c":11,"k":3},{"r":32,"c":12,"k":4},{"r":32,"c":13,"k":4},{"r":32,"c":14,"k":4},{"r":32,"c":15,"k":4},{"r":32,"c":16,"k":5},{"r":32,"c":17,"k":5},{"r":32,"c":18,"k":5},{"r":32,"c":19,"k":1},{"r":32,"c":20,"k":1},{"r":32,"c":21,"k":1},{"r":32,"c":22,"k":5},{"r":32,"c":23,"k":6},{"r":32,"c":24,"k":7},{"r":32,"c":25,"k":7},{"r":32,"c":26,"k":7},{"r":32,"c":27,"k":7},{"r":32,"c":28,"k":7},{"r":32,"c":29,"k":7},
{"r":33,"c":0,"k":5},{"r":33,"c":1,"k":2},{"r":33,"c":2,"k":2},{"r":33,"c":3,"k":2},{"r":33,"c":4,"k":2},{"r":33,"c":5,"k":2},{"r":33,"c":6,"k":3},{"r":33,"c":7,"k":3},{"r":33,"c":8,"k":3},{"r":33,"c":9,"k":3},{"r":33,"c":10,"k":3},{"r":33,"c":11,"k":3},{"r":33,"c":12,"k":4},{"r":33,"c":13,"k":4},{"r":33,"c":14,"k":4},{"r":33,"c":15,"k":4},{"r":33,"c":16,"k":5},{"r":33,"c":17,"k":5},{"r":33,"c":18,"k":5},{"r":33,"c":19,"k":1},{"r":33,"c":20,"k":1},{"r":33,"c":21,"k":1},{"r":33,"c":22,"k":5},{"r":33,"c":23,"k":6},{"r":33,"c":24,"k":7},{"r":33,"c":25,"k":7},{"r":33,"c":26,"k":7},{"r":33,"c":27,"k":7},{"r":33,"c":28,"k":7},{"r":33,"c":29,"k":7},
{"r":34,"c":0,"k":2},{"r":34,"c":1,"k":2},{"r":34,"c":2,"k":2},{"r":34,"c":3,"k":2},{"r":34,"c":4,"k":2},{"r":34,"c":5,"k":2},{"r":34,"c":6,"k":1},{"r":34,"c":7,"k":3},{"r":34,"c":8,"k":4},{"r":34,"c":9,"k":5},{"r":34,"c":10,"k":5},{"r":34,"c":11,"k":5},{"r":34,"c":12,"k":4},{"r":34,"c":13,"k":4},{"r":34,"c":14,"k":4},{"r":34,"c":15,"k":4},{"r":34,"c":16,"k":2},{"r":34,"c":17,"k":2},{"r":34,"c":18,"k":2},{"r":34,"c":19,"k":5},{"r":34,"c":20,"k":5},{"r":34,"c":21,"k":5},{"r":34,"c":22,"k":6},{"r":34,"c":23,"k":6},{"r":34,"c":24,"k":7},{"r":34,"c":25,"k":7},{"r":34,"c":26,"k":7},{"r":34,"c":27,"k":7},{"r":34,"c":28,"k":7},{"r":34,"c":29,"k":7},
{"r":35,"c":0,"k":2},{"r":35,"c":1,"k":2},{"r":35,"c":2,"k":2},{"r":35,"c":3,"k":2},{"r":35,"c":4,"k":2},{"r":35,"c":5,"k":2},{"r":35,"c":6,"k":1},{"r":35,"c":7,"k":3},{"r":35,"c":8,"k":4},{"r":35,"c":9,"k":5},{"r":35,"c":10,"k":5},{"r":35,"c":11,"k":5},{"r":35,"c":12,"k":4},{"r":35,"c":13,"k":4},{"r":35,"c":14,"k":4},{"r":35,"c":15,"k":4},{"r":35,"c":16,"k":2},{"r":35,"c":17,"k":2},{"r":35,"c":18,"k":2},{"r":35,"c":19,"k":5},{"r":35,"c":20,"k":5},{"r":35,"c":21,"k":5},{"r":35,"c":22,"k":6},{"r":35,"c":23,"k":6},{"r":35,"c":24,"k":7},{"r":35,"c":25,"k":7},{"r":35,"c":26,"k":7},{"r":35,"c":27,"k":7},{"r":35,"c":28,"k":7},{"r":35,"c":29,"k":7},
{"r":36,"c":0,"k":2},{"r":36,"c":1,"k":2},{"r":36,"c":2,"k":2},{"r":36,"c":3,"k":2},{"r":36,"c":4,"k":2},{"r":36,"c":5,"k":2},{"r":36,"c":6,"k":1},{"r":36,"c":7,"k":3},{"r":36,"c":8,"k":4},{"r":36,"c":9,"k":5},{"r":36,"c":10,"k":5},{"r":36,"c":11,"k":5},{"r":36,"c":12,"k":4},{"r":36,"c":13,"k":4},{"r":36,"c":14,"k":4},{"r":36,"c":15,"k":4},{"r":36,"c":16,"k":2},{"r":36,"c":17,"k":2},{"r":36,"c":18,"k":2},{"r":36,"c":19,"k":5},{"r":36,"c":20,"k":5},{"r":36,"c":21,"k":5},{"r":36,"c":22,"k":6},{"r":36,"c":23,"k":6},{"r":36,"c":24,"k":7},{"r":36,"c":25,"k":7},{"r":36,"c":26,"k":7},{"r":36,"c":27,"k":7},{"r":36,"c":28,"k":7},{"r":36,"c":29,"k":7},
{"r":37,"c":0,"k":2},{"r":37,"c":1,"k":2},{"r":37,"c":2,"k":2},{"r":37,"c":3,"k":2},{"r":37,"c":4,"k":2},{"r":37,"c":5,"k":2},{"r":37,"c":6,"k":1},{"r":37,"c":7,"k":3},{"r":37,"c":8,"k":4},{"r":37,"c":9,"k":3},{"r":37,"c":10,"k":3},{"r":37,"c":11,"k":3},{"r":37,"c":12,"k":5},{"r":37,"c":13,"k":5},{"r":37,"c":14,"k":4},{"r":37,"c":15,"k":4},{"r":37,"c":16,"k":2},{"r":37,"c":17,"k":2},{"r":37,"c":18,"k":2},{"r":37,"c":19,"k":3},{"r":37,"c":20,"k":3},{"r":37,"c":21,"k":3},{"r":37,"c":22,"k":6},{"r":37,"c":23,"k":6},{"r":37,"c":24,"k":7},{"r":37,"c":25,"k":7},{"r":37,"c":26,"k":7},{"r":37,"c":27,"k":7},{"r":37,"c":28,"k":7},{"r":37,"c":29,"k":7},
{"r":38,"c":0,"k":2},{"r":38,"c":1,"k":2},{"r":38,"c":2,"k":2},{"r":38,"c":3,"k":2},{"r":38,"c":4,"k":2},{"r":38,"c":5,"k":2},{"r":38,"c":6,"k":1},{"r":38,"c":7,"k":3},{"r":38,"c":8,"k":4},{"r":38,"c":9,"k":3},{"r":38,"c":10,"k":3},{"r":38,"c":11,"k":3},{"r":38,"c":12,"k":5},{"r":38,"c":13,"k":5},{"r":38,"c":14,"k":4},{"r":38,"c":15,"k":4},{"r":38,"c":16,"k":2},{"r":38,"c":17,"k":2},{"r":38,"c":18,"k":2},{"r":38,"c":19,"k":3},{"r":38,"c":20,"k":3},{"r":38,"c":21,"k":3},{"r":38,"c":22,"k":6},{"r":38,"c":23,"k":6},{"r":38,"c":24,"k":7},{"r":38,"c":25,"k":7},{"r":38,"c":26,"k":7},{"r":38,"c":27,"k":7},{"r":38,"c":28,"k":7},{"r":38,"c":29,"k":7},
{"r":39,"c":0,"k":2},{"r":39,"c":1,"k":2},{"r":39,"c":2,"k":2},{"r":39,"c":3,"k":2},{"r":39,"c":4,"k":2},{"r":39,"c":5,"k":2},{"r":39,"c":6,"k":1},{"r":39,"c":7,"k":3},{"r":39,"c":8,"k":4},{"r":39,"c":9,"k":3},{"r":39,"c":10,"k":3},{"r":39,"c":11,"k":3},{"r":39,"c":12,"k":5},{"r":39,"c":13,"k":5},{"r":39,"c":14,"k":4},{"r":39,"c":15,"k":4},{"r":39,"c":16,"k":2},{"r":39,"c":17,"k":2},{"r":39,"c":18,"k":2},{"r":39,"c":19,"k":2},{"r":39,"c":20,"k":3},{"r":39,"c":21,"k":3},{"r":39,"c":22,"k":6},{"r":39,"c":23,"k":6},{"r":39,"c":24,"k":7},{"r":39,"c":25,"k":7},{"r":39,"c":26,"k":7},{"r":39,"c":27,"k":7},{"r":39,"c":28,"k":7},{"r":39,"c":29,"k":7},
{"r":40,"c":0,"k":2},{"r":40,"c":1,"k":2},{"r":40,"c":2,"k":2},{"r":40,"c":3,"k":2},{"r":40,"c":4,"k":2},{"r":40,"c":5,"k":2},{"r":40,"c":6,"k":1},{"r":40,"c":7,"k":3},{"r":40,"c":8,"k":4},{"r":40,"c":9,"k":3},{"r":40,"c":10,"k":3},{"r":40,"c":11,"k":3},{"r":40,"c":12,"k":5},{"r":40,"c":13,"k":5},{"r":40,"c":14,"k":4},{"r":40,"c":15,"k":4},{"r":40,"c":16,"k":2},{"r":40,"c":17,"k":2},{"r":40,"c":18,"k":2},{"r":40,"c":19,"k":2},{"r":40,"c":20,"k":3},{"r":40,"c":21,"k":3},{"r":40,"c":22,"k":6},{"r":40,"c":23,"k":6},{"r":40,"c":24,"k":7},{"r":40,"c":25,"k":7},{"r":40,"c":26,"k":7},{"r":40,"c":27,"k":7},{"r":40,"c":28,"k":7},{"r":40,"c":29,"k":7},
{"r":41,"c":0,"k":2},{"r":41,"c":1,"k":2},{"r":41,"c":2,"k":2},{"r":41,"c":3,"k":2},{"r":41,"c":4,"k":2},{"r":41,"c":5,"k":2},{"r":41,"c":6,"k":1},{"r":41,"c":7,"k":3},{"r":41,"c":8,"k":4},{"r":41,"c":9,"k":3},{"r":41,"c":10,"k":3},{"r":41,"c":11,"k":3},{"r":41,"c":12,"k":4},{"r":41,"c":13,"k":4},{"r":41,"c":14,"k":4},{"r":41,"c":15,"k":4},{"r":41,"c":16,"k":2},{"r":41,"c":17,"k":2},{"r":41,"c":18,"k":2},{"r":41,"c":19,"k":3},{"r":41,"c":20,"k":3},{"r":41,"c":21,"k":3},{"r":41,"c":22,"k":6},{"r":41,"c":23,"k":6},{"r":41,"c":24,"k":5},{"r":41,"c":25,"k":5},{"r":41,"c":26,"k":7},{"r":41,"c":27,"k":7},{"r":41,"c":28,"k":7},{"r":41,"c":29,"k":7},
{"r":42,"c":0,"k":2},{"r":42,"c":1,"k":2},{"r":42,"c":2,"k":2},{"r":42,"c":3,"k":2},{"r":42,"c":4,"k":2},{"r":42,"c":5,"k":2},{"r":42,"c":6,"k":1},{"r":42,"c":7,"k":3},{"r":42,"c":8,"k":3},{"r":42,"c":9,"k":3},{"r":42,"c":10,"k":3},{"r":42,"c":11,"k":3},{"r":42,"c":12,"k":4},{"r":42,"c":13,"k":4},{"r":42,"c":14,"k":4},{"r":42,"c":15,"k":4},{"r":42,"c":16,"k":2},{"r":42,"c":17,"k":2},{"r":42,"c":18,"k":2},{"r":42,"c":19,"k":3},{"r":42,"c":20,"k":3},{"r":42,"c":21,"k":3},{"r":42,"c":22,"k":6},{"r":42,"c":23,"k":6},{"r":42,"c":24,"k":5},{"r":42,"c":25,"k":5},{"r":42,"c":26,"k":7},{"r":42,"c":27,"k":7},{"r":42,"c":28,"k":7},{"r":42,"c":29,"k":7},
{"r":43,"c":0,"k":2},{"r":43,"c":1,"k":2},{"r":43,"c":2,"k":2},{"r":43,"c":3,"k":2},{"r":43,"c":4,"k":2},{"r":43,"c":5,"k":2},{"r":43,"c":6,"k":1},{"r":43,"c":7,"k":3},{"r":43,"c":8,"k":3},{"r":43,"c":9,"k":3},{"r":43,"c":10,"k":3},{"r":43,"c":11,"k":3},{"r":43,"c":12,"k":4},{"r":43,"c":13,"k":4},{"r":43,"c":14,"k":4},{"r":43,"c":15,"k":4},{"r":43,"c":16,"k":2},{"r":43,"c":17,"k":2},{"r":43,"c":18,"k":2},{"r":43,"c":19,"k":2},{"r":43,"c":20,"k":3},{"r":43,"c":21,"k":3},{"r":43,"c":22,"k":6},{"r":43,"c":23,"k":6},{"r":43,"c":24,"k":5},{"r":43,"c":25,"k":5},{"r":43,"c":26,"k":7},{"r":43,"c":27,"k":7},{"r":43,"c":28,"k":7},{"r":43,"c":29,"k":7},
{"r":44,"c":0,"k":2},{"r":44,"c":1,"k":2},{"r":44,"c":2,"k":2},{"r":44,"c":3,"k":2},{"r":44,"c":4,"k":2},{"r":44,"c":5,"k":2},{"r":44,"c":6,"k":1},{"r":44,"c":7,"k":3},{"r":44,"c":8,"k":4},{"r":44,"c":9,"k":3},{"r":44,"c":10,"k":3},{"r":44,"c":11,"k":3},{"r":44,"c":12,"k":5},{"r":44,"c":13,"k":5},{"r":44,"c":14,"k":4},{"r":44,"c":15,"k":4},{"r":44,"c":16,"k":2},{"r":44,"c":17,"k":2},{"r":44,"c":18,"k":2},{"r":44,"c":19,"k":3},{"r":44,"c":20,"k":3},{"r":44,"c":21,"k":3},{"r":44,"c":22,"k":2},{"r":44,"c":23,"k":3},{"r":44,"c":24,"k":6},{"r":44,"c":25,"k":6},{"r":44,"c":26,"k":7},{"r":44,"c":27,"k":7},{"r":44,"c":28,"k":7},{"r":44,"c":29,"k":7},
{"r":45,"c":0,"k":2},{"r":45,"c":1,"k":2},{"r":45,"c":2,"k":2},{"r":45,"c":3,"k":2},{"r":45,"c":4,"k":2},{"r":45,"c":5,"k":2},{"r":45,"c":6,"k":1},{"r":45,"c":7,"k":3},{"r":45,"c":8,"k":4},{"r":45,"c":9,"k":3},{"r":45,"c":10,"k":3},{"r":45,"c":11,"k":3},{"r":45,"c":12,"k":5},{"r":45,"c":13,"k":5},{"r":45,"c":14,"k":4},{"r":45,"c":15,"k":4},{"r":45,"c":16,"k":2},{"r":45,"c":17,"k":2},{"r":45,"c":18,"k":2},{"r":45,"c":19,"k":3},{"r":45,"c":20,"k":3},{"r":45,"c":21,"k":3},{"r":45,"c":22,"k":2},{"r":45,"c":23,"k":3},{"r":45,"c":24,"k":6},{"r":45,"c":25,"k":6},{"r":45,"c":26,"k":7},{"r":45,"c":27,"k":7},{"r":45,"c":28,"k":7},{"r":45,"c":29,"k":7},
{"r":46,"c":0,"k":2},{"r":46,"c":1,"k":2},{"r":46,"c":2,"k":2},{"r":46,"c":3,"k":2},{"r":46,"c":4,"k":2},{"r":46,"c":5,"k":2},{"r":46,"c":6,"k":1},{"r":46,"c":7,"k":3},{"r":46,"c":8,"k":4},{"r":46,"c":9,"k":3},{"r":46,"c":10,"k":3},{"r":46,"c":11,"k":3},{"r":46,"c":12,"k":5},{"r":46,"c":13,"k":5},{"r":46,"c":14,"k":4},{"r":46,"c":15,"k":4},{"r":46,"c":16,"k":2},{"r":46,"c":17,"k":2},{"r":46,"c":18,"k":2},{"r":46,"c":19,"k":3},{"r":46,"c":20,"k":3},{"r":46,"c":21,"k":3},{"r":46,"c":22,"k":2},{"r":46,"c":23,"k":3},{"r":46,"c":24,"k":6},{"r":46,"c":25,"k":6},{"r":46,"c":26,"k":7},{"r":46,"c":27,"k":7},{"r":46,"c":28,"k":7},{"r":46,"c":29,"k":7},
{"r":47,"c":0,"k":2},{"r":47,"c":1,"k":2},{"r":47,"c":2,"k":2},{"r":47,"c":3,"k":2},{"r":47,"c":4,"k":2},{"r":47,"c":5,"k":2},{"r":47,"c":6,"k":3},{"r":47,"c":7,"k":3},{"r":47,"c":8,"k":3},{"r":47,"c":9,"k":3},{"r":47,"c":10,"k":3},{"r":47,"c":11,"k":3},{"r":47,"c":12,"k":4},{"r":47,"c":13,"k":4},{"r":47,"c":14,"k":4},{"r":47,"c":15,"k":4},{"r":47,"c":16,"k":5},{"r":47,"c":17,"k":5},{"r":47,"c":18,"k":5},{"r":47,"c":19,"k":5},{"r":47,"c":20,"k":5},{"r":47,"c":21,"k":5},{"r":47,"c":22,"k":6},{"r":47,"c":23,"k":6},{"r":47,"c":24,"k":1},{"r":47,"c":25,"k":1},{"r":47,"c":26,"k":7},{"r":47,"c":27,"k":7},{"r":47,"c":28,"k":7},{"r":47,"c":29,"k":7},
{"r":48,"c":0,"k":2},{"r":48,"c":1,"k":2},{"r":48,"c":2,"k":2},{"r":48,"c":3,"k":2},{"r":48,"c":4,"k":2},{"r":48,"c":5,"k":2},{"r":48,"c":6,"k":3},{"r":48,"c":7,"k":3},{"r":48,"c":8,"k":4},{"r":48,"c":9,"k":3},{"r":48,"c":10,"k":3},{"r":48,"c":11,"k":3},{"r":48,"c":12,"k":5},{"r":48,"c":13,"k":5},{"r":48,"c":14,"k":4},{"r":48,"c":15,"k":4},{"r":48,"c":16,"k":2},{"r":48,"c":17,"k":2},{"r":48,"c":18,"k":2},{"r":48,"c":19,"k":3},{"r":48,"c":20,"k":3},{"r":48,"c":21,"k":3},{"r":48,"c":22,"k":6},{"r":48,"c":23,"k":6},{"r":48,"c":24,"k":1},{"r":48,"c":25,"k":1},{"r":48,"c":26,"k":7},{"r":48,"c":27,"k":7},{"r":48,"c":28,"k":7},{"r":48,"c":29,"k":7},
{"r":49,"c":0,"k":2},{"r":49,"c":1,"k":2},{"r":49,"c":2,"k":2},{"r":49,"c":3,"k":2},{"r":49,"c":4,"k":2},{"r":49,"c":5,"k":2},{"r":49,"c":6,"k":3},{"r":49,"c":7,"k":3},{"r":49,"c":8,"k":4},{"r":49,"c":9,"k":3},{"r":49,"c":10,"k":3},{"r":49,"c":11,"k":3},{"r":49,"c":12,"k":5},{"r":49,"c":13,"k":5},{"r":49,"c":14,"k":4},{"r":49,"c":15,"k":4},{"r":49,"c":16,"k":2},{"r":49,"c":17,"k":2},{"r":49,"c":18,"k":2},{"r":49,"c":19,"k":3},{"r":49,"c":20,"k":3},{"r":49,"c":21,"k":3},{"r":49,"c":22,"k":6},{"r":49,"c":23,"k":6},{"r":49,"c":24,"k":1},{"r":49,"c":25,"k":1},{"r":49,"c":26,"k":7},{"r":49,"c":27,"k":7},{"r":49,"c":28,"k":7},{"r":49,"c":29,"k":7}
]
},
"concat":[
{"width":28,"height":98,"data":{"values":[]},"mark":"rect","encoding":{}},
{"width":408,"height":98,
 "title":{"text":"membership heatmap, k = 7","fontSize":13,"fontWeight":"normal","offset":7,"anchor":"middle","color":"black"},
 "data":{"name":"prob"},
 "mark":{"type":"rect","strokeWidth":1},
 "encoding":{
  "x":{"field":"c","type":"ordinal","axis":null,"scale":{"paddingInner":0,"paddingOuter":0}},
  "y":{"field":"p","type":"nominal","scale":{"paddingInner":0,"paddingOuter":0},"axis":{"orient":"right","title":null,"ticks":false,"domain":false,"labelFontSize":12,"labelPadding":2,"labelColor":"black"}},
  "fill":{"field":"v","type":"quantitative","scale":{"domain":[0,1],"range":["#ffffff","#ff0000"],"interpolate":"lab"},"legend":{"title":"Prob","orient":"none","legendX":447,"legendY":212,"direction":"vertical","gradientLength":64,"gradientThickness":11,"values":[0,0.5,1],"format":"~g","labelFontSize":11,"titleFontSize":11,"titleFontWeight":"bold","titleColor":"black","labelColor":"black","titlePadding":1}},
  "stroke":{"field":"v","type":"quantitative","scale":{"domain":[0,1],"range":["#ffffff","#ff0000"],"interpolate":"lab"},"legend":null}
 }
},
{"width":28,"height":14,"data":{"values":[]},"mark":"rect","encoding":{}},
{"width":408,"height":14,
 "data":{"name":"cls"},
 "mark":{"type":"rect","strokeWidth":1},
 "encoding":{
  "x":{"field":"c","type":"ordinal","axis":null,"scale":{"paddingInner":0,"paddingOuter":0}},
  "y":{"datum":"Class","type":"nominal","scale":{"paddingInner":0,"paddingOuter":0},"axis":{"orient":"right","title":null,"ticks":false,"domain":false,"labelFontSize":12,"labelPadding":2,"labelColor":"black"}},
  "color":{"field":"k","type":"nominal","scale":{"domain":[1,2,3,4,5,6,7],"range":["#66c2a5","#fc8d62","#8da0cb","#e78ac3","#a6d854","#ffd92f","#e5c494"]},"legend":{"title":"Class","orient":"none","legendX":447,"legendY":324,"values":[2,3,4,5,6,7],"symbolType":"square","symbolSize":100,"symbolStrokeWidth":0,"labelFontSize":11,"titleFontSize":11,"titleFontWeight":"bold","titleColor":"black","labelColor":"black","rowPadding":0,"titlePadding":5,"labelOffset":4}},
  "stroke":{"field":"k","type":"nominal","scale":{"domain":[1,2,3,4,5,6,7],"range":["#66c2a5","#fc8d62","#8da0cb","#e78ac3","#a6d854","#ffd92f","#e5c494"]},"legend":null}
 }
},
{"width":28,"height":358,
 "data":{"values":[{"t":"top 1000 rows"}]},
 "layer":[
  {"mark":{"type":"rect","color":"#7fc97f"},
   "encoding":{"y":{"field":"t","type":"nominal","scale":{"paddingInner":0,"paddingOuter":0},"axis":{"title":"50 x 1 random samplings","labels":false,"ticks":false,"domain":false,"titleFontSize":14,"titleFontWeight":"normal","titleColor":"black","titlePadding":6,"titleY":114}}}},
  {"mark":{"type":"text","angle":270,"fontSize":10,"color":"black"},
   "encoding":{"y":{"field":"t","type":"nominal"},"text":{"field":"t"}}}
 ]
},
{"width":408,"height":358,
 "data":{"name":"cells"},
 "mark":{"type":"rect","strokeWidth":1},
 "encoding":{
  "x":{"field":"c","type":"ordinal","axis":null,"scale":{"paddingInner":0,"paddingOuter":0}},
  "y":{"field":"r","type":"ordinal","axis":null,"scale":{"paddingInner":0,"paddingOuter":0}},
  "color":{"field":"k","type":"nominal","scale":{"domain":[1,2,3,4,5,6,7],"range":["#66c2a5","#fc8d62","#8da0cb","#e78ac3","#a6d854","#ffd92f","#e5c494"]},"legend":{"title":"Class","orient":"none","legendX":447,"legendY":324,"values":[2,3,4,5,6,7],"symbolType":"square","symbolSize":100,"symbolStrokeWidth":0,"labelFontSize":11,"titleFontSize":11,"titleFontWeight":"bold","titleColor":"black","labelColor":"black","rowPadding":0,"titlePadding":5,"labelOffset":4}},
  "stroke":{"field":"k","type":"nominal","scale":{"domain":[1,2,3,4,5,6,7],"range":["#66c2a5","#fc8d62","#8da0cb","#e78ac3","#a6d854","#ffd92f","#e5c494"]},"legend":null}
 }
}
]
}
